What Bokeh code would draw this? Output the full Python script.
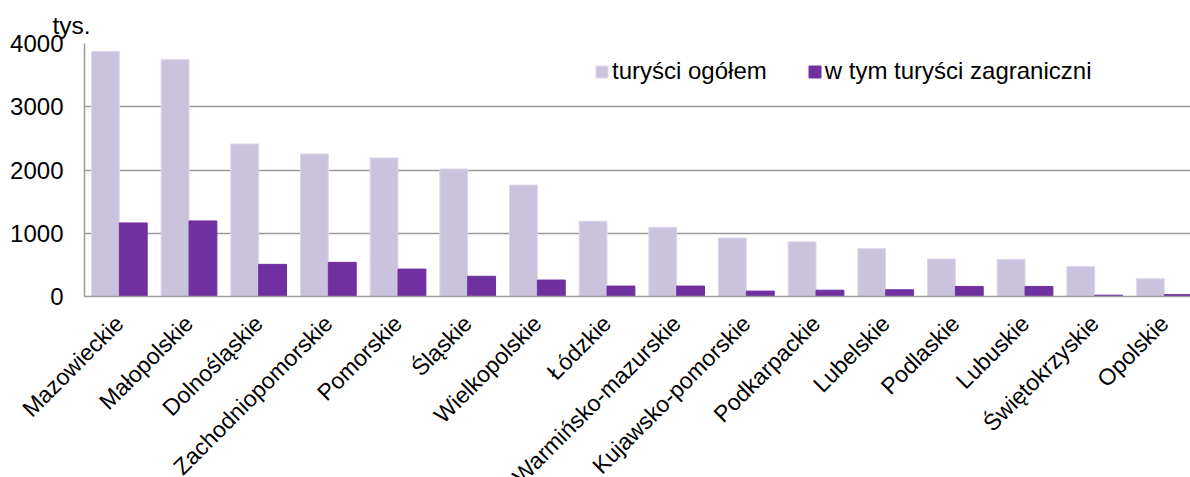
import math
from bokeh.plotting import figure
from bokeh.models import ColumnDataSource, Legend, LegendItem, FixedTicker, Range1d
from bokeh.transform import dodge
from bokeh.embed import file_html
from bokeh.resources import INLINE

regions = ["Mazowieckie", "Małopolskie", "Dolnośląskie", "Zachodniopomorskie", "Pomorskie",
           "Śląskie", "Wielkopolskie", "Łódzkie", "Warmińsko-mazurskie", "Kujawsko-pomorskie",
           "Podkarpackie", "Lubelskie", "Podlaskie", "Lubuskie", "Świętokrzyskie", "Opolskie"]
tourists_total = [3873, 3746, 2413, 2254, 2190, 2016, 1762, 1190, 1095, 925, 865, 760, 592, 587, 476, 281]
tourists_foreign = [1163, 1195, 508, 540, 433, 320, 260, 165, 165, 85, 100, 106, 159, 159, 21, 30]
y_ticks = [0, 1000, 2000, 3000, 4000]
series_names = ["turyści ogółem", "w tym turyści zagraniczni"]
unit_label = "tys."

FONT = "Liberation Sans"
LIGHT = "#CBC3DD"
DARK = "#7030A0"
GRID = "#9A9A9A"

idx = list(range(len(regions)))
src = ColumnDataSource(dict(idx=idx, cat=regions, total=tourists_total, foreign=tourists_foreign))

p = figure(x_range=Range1d(-0.5, len(regions) - 0.625), y_range=Range1d(0, 4000),
           width=1190, height=501,
           output_backend="svg", toolbar_location=None,
           min_border_left=84, min_border_right=0, min_border_top=43, min_border_bottom=180)
p.outline_line_color = None
p.background_fill_color = "white"

r1 = p.vbar(x=dodge("idx", -0.2), top="total", width=0.4, source=src,
            fill_color=LIGHT, line_color="#DDD8EA", line_width=1)
r2 = p.vbar(x=dodge("idx", 0.2), top="foreign", width=0.4, source=src,
            fill_color=DARK, line_color=DARK, line_width=1)

p.xgrid.grid_line_color = None
p.ygrid.grid_line_color = GRID
p.ygrid.grid_line_width = 1.5
p.yaxis.ticker = FixedTicker(ticks=y_ticks)
p.xaxis.ticker = FixedTicker(ticks=idx)
p.xaxis.major_label_overrides = {i: name for i, name in zip(idx, regions)}

for ax in (p.xaxis[0], p.yaxis[0]):
    ax.axis_line_color = GRID
    ax.axis_line_width = 1.5
    ax.major_tick_line_color = None
    ax.minor_tick_line_color = None
    ax.major_tick_out = 0
    ax.major_tick_in = 0
    ax.minor_tick_out = 0
    ax.minor_tick_in = 0
    ax.major_label_text_font = FONT
    ax.major_label_text_color = "#000000"

p.yaxis.major_label_text_font_size = "24px"
p.xaxis.major_label_text_font_size = "23px"
p.yaxis.major_label_standoff = 21
p.xaxis.major_label_standoff = 23
p.xaxis.major_label_orientation = math.pi / 4

legend = Legend(items=[LegendItem(label=series_names[0], renderers=[r1]),
                       LegendItem(label=series_names[1], renderers=[r2])],
                orientation="horizontal", location=(510, 211),
                border_line_alpha=0, background_fill_alpha=0,
                glyph_width=15, glyph_height=15, padding=0, margin=0, spacing=40,
                label_standoff=3,
                label_text_font=FONT, label_text_font_size="24px", label_text_color="#000000")
p.add_layout(legend)

p.title.text = unit_label
p.title.align = "left"
p.title.offset = -32
p.title.standoff = 10
p.title.text_font = FONT
p.title.text_font_size = "24.5px"
p.title.text_font_style = "normal"
p.title.text_color = "#000000"

open("out.html", "w").write(file_html(p, INLINE))
